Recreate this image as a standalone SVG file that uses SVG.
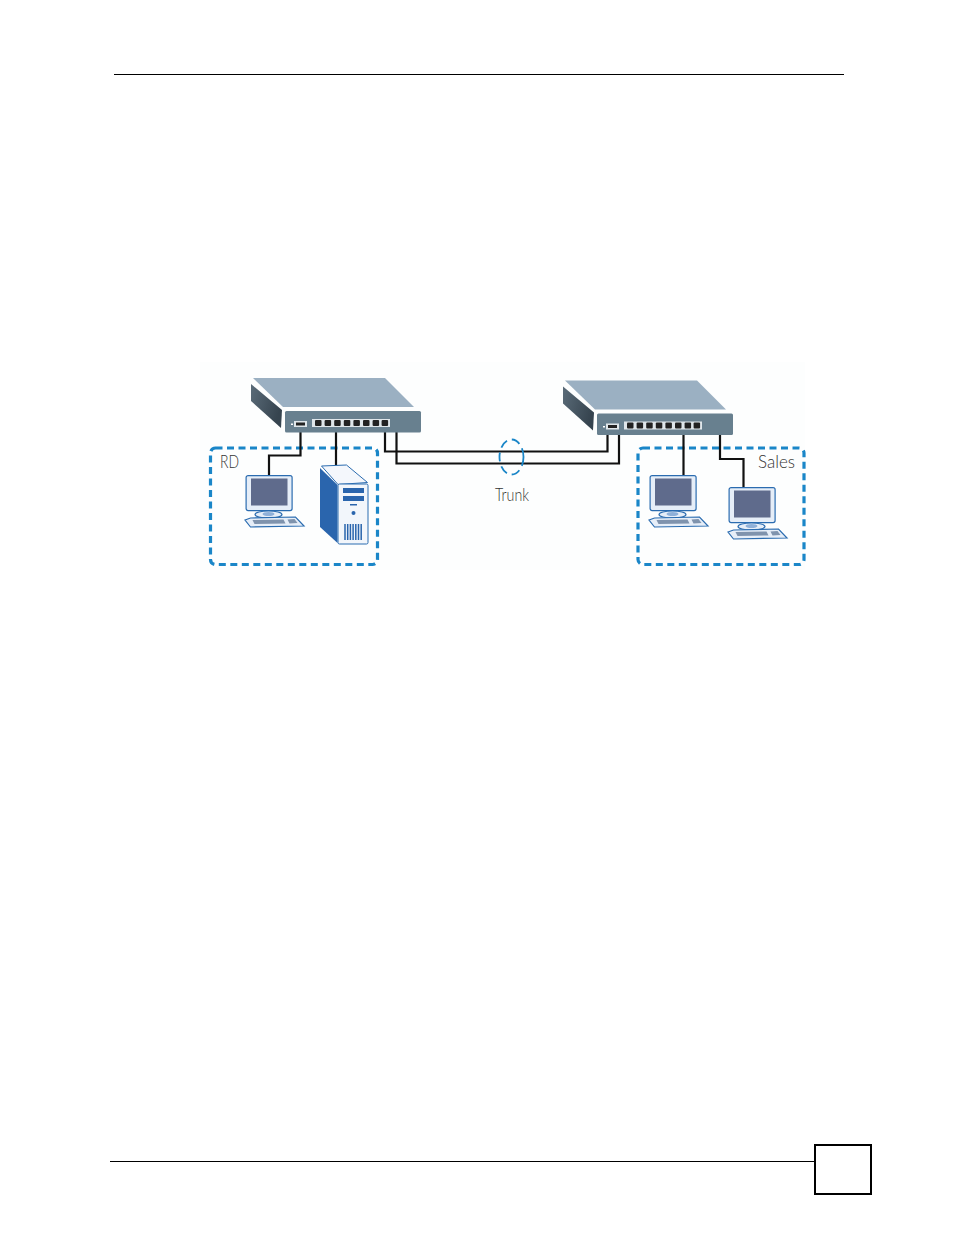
<svg xmlns="http://www.w3.org/2000/svg" width="954" height="1235" viewBox="0 0 954 1235">
<style>
.rule{stroke:#000;stroke-width:1;fill:none}
.wire{stroke:#111;stroke-width:2.200;fill:none}
.zone{fill:none;stroke:#1a86c8;stroke-width:3.200;stroke-dasharray:7 4.500}
.lbl{font-family:"Lato","Liberation Sans",Arial,sans-serif;font-size:17px;fill:#333;font-weight:300}
.pf{fill:#e6eef8;stroke:#2b6cb0;stroke-width:1.200}
</style>
<defs>
<linearGradient id="side" x1="0" y1="0" x2="1" y2="0.4"><stop offset="0" stop-color="#5a6b78"/><stop offset="1" stop-color="#36444f"/></linearGradient>
<g id="switch">
<polygon points="253,378 385,378 414,407 283,407" fill="#9bb0c2"/>
<polygon points="251,384 282,410 281,428 251,401" fill="url(#side)"/>
<rect x="285" y="411" width="136" height="21.500" rx="1.500" fill="#68808f"/>
<rect x="294" y="421" width="13" height="6" fill="#dfe6ea"/>
<rect x="296" y="422.500" width="9" height="3" fill="#222"/>
<rect x="291" y="423.500" width="2" height="1.500" fill="#fff"/>
<rect x="312" y="419" width="78" height="8" fill="#dfe6ea"/>
<g fill="#222">
<rect x="315" y="420" width="6.500" height="6" rx="1"/><rect x="324.600" y="420" width="6.500" height="6" rx="1"/><rect x="334.200" y="420" width="6.500" height="6" rx="1"/><rect x="343.800" y="420" width="6.500" height="6" rx="1"/><rect x="353.400" y="420" width="6.500" height="6" rx="1"/><rect x="363" y="420" width="6.500" height="6" rx="1"/><rect x="372.600" y="420" width="6.500" height="6" rx="1"/><rect x="381.600" y="420" width="6.500" height="6" rx="1"/>
</g>
</g>
<g id="pc">
<rect x="0.600" y="0.600" width="46" height="35" rx="2" class="pf"/>
<rect x="5.500" y="3.500" width="36.500" height="27" fill="#5f6b8c"/>
<ellipse cx="23" cy="39.500" rx="13.500" ry="3.500" fill="#e6eef8" stroke="#2b6cb0" stroke-width="1.200"/>
<ellipse cx="23" cy="39" rx="6" ry="2" fill="#8fb0d8"/>
<polygon points="-0.500,45 5,43 50,42 58.500,51 5,52" fill="#e6eef8" stroke="#2b6cb0" stroke-width="1.200"/>
<polygon points="7,45 38,44.500 40,48.500 9,49" fill="#7f93ad"/>
<polygon points="42,44.500 49,44 52,48 44,48.500" fill="#7f93ad"/>
</g>
</defs>
<rect width="954" height="1235" fill="#fff"/>
<rect x="200" y="362" width="605" height="208" fill="#fdfefe"/>
<g id="page-frame">
<line class="rule" x1="114" y1="74.500" x2="844" y2="74.500"/>
<line class="rule" x1="110" y1="1161.500" x2="815" y2="1161.500"/>
<rect x="815" y="1145" width="56" height="49" fill="none" stroke="#000" stroke-width="2"/>
</g>
<g id="zone-rd"><rect class="zone" x="210.500" y="448" width="167" height="116.500" rx="5"/><text class="lbl" x="220" y="468" textLength="19" lengthAdjust="spacingAndGlyphs">RD</text></g>
<g id="zone-sales"><rect class="zone" x="638" y="448" width="166" height="116.500" rx="5"/><text class="lbl" x="758" y="468" textLength="37" lengthAdjust="spacingAndGlyphs">Sales</text></g>
<g id="connectors">
<path class="wire" d="M385 432V451.500H607.500V434"/>
<path class="wire" d="M396.500 432V463.500H619V434"/>
<path class="wire" d="M300.500 432V455.500H269V475"/>
<path class="wire" d="M336 432V465"/>
<path class="wire" d="M683.500 434V475"/>
<path class="wire" d="M720 434V459H743.500V487"/>
</g>
<g id="switch-1"><use href="#switch"/></g>
<g id="switch-2"><use href="#switch" transform="translate(312,2.500)"/></g>
<g id="pc-1"><use href="#pc" transform="translate(245.500,475)"/></g>
<g id="pc-2"><use href="#pc" transform="translate(649.500,475)"/></g>
<g id="pc-3"><use href="#pc" transform="translate(728.500,487)"/></g>
<g id="server">
<polygon points="321.500,466 346.500,465 367.500,482.500 338,484.500" fill="#f4f7fc" stroke="#2b6cb0" stroke-width="1"/>
<polygon points="320,468 337.500,485 337.500,543 320,527" fill="#2a65ad"/>
<rect x="338" y="484" width="30" height="60" rx="1.500" fill="#f2f6fb" stroke="#2b6cb0" stroke-width="1"/>
<rect x="343" y="488" width="21" height="5" fill="#2a65ad"/>
<rect x="343" y="496" width="21" height="5" fill="#2a65ad"/>
<rect x="350" y="504" width="7" height="1.500" fill="#2a65ad"/>
<circle cx="353.500" cy="513" r="2" fill="#2a65ad"/>
<path d="M345 524V540M347.700 524V540M350.400 524V540M353.100 524V540M355.800 524V540M358.500 524V540M361.200 524V540" stroke="#2a65ad" stroke-width="1.500" fill="none"/>
</g>
<g id="trunk"><ellipse cx="511.500" cy="457" rx="12" ry="17.500" fill="none" stroke="#1a86c8" stroke-width="1.800" stroke-dasharray="9 5"/><text class="lbl" x="495" y="501" textLength="34" lengthAdjust="spacingAndGlyphs">Trunk</text></g>
</svg>
